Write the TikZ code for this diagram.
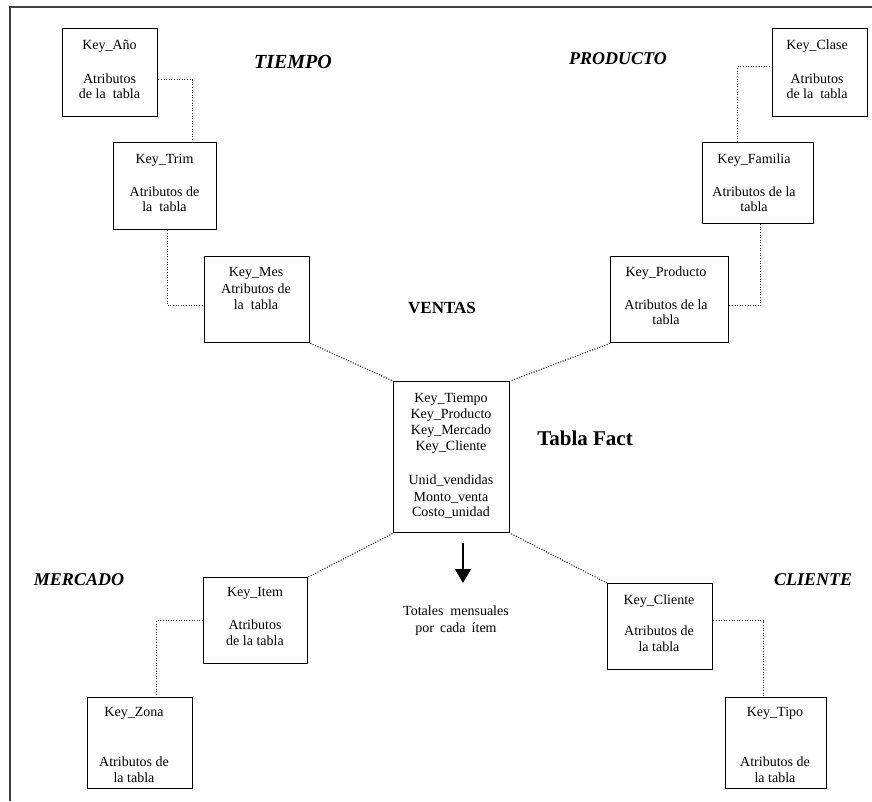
\documentclass[tikz,border=0pt]{standalone}
\usepackage{fontspec}
\setmainfont{Liberation Serif}
\usetikzlibrary{arrows.meta}
\begin{document}
\begin{tikzpicture}[x=1pt,y=-1pt,
  tbl/.style={draw=black, line width=1.3pt, inner sep=0pt, anchor=north west},
  txt/.style={anchor=north, inner sep=0pt, align=center, font=\fontsize{14}{16}\selectfont},
  link/.style={draw=black!85, line width=1.1pt, dash pattern=on 1.1pt off 1.5pt},
  frame/.style={draw=black!75, line width=1.6pt},
  dim/.style={inner sep=0pt, font=\fontsize{18}{20}\selectfont\bfseries\itshape},
  hdr/.style={inner sep=0pt, font=\fontsize{17}{20}\selectfont\bfseries},
  fact/.style={inner sep=0pt, font=\fontsize{21}{24}\selectfont\bfseries},
  flow/.style={draw=black, line width=1.5pt, -{Triangle[width=16pt,length=14pt]}}
]
\useasboundingbox (0,0) rectangle (872,801);

% page frame
\draw[frame] (10,801) -- (10,7) -- (872,7);

% dimension tables
\node[tbl, minimum width=95,  minimum height=88]  (anio)  at (62,28)   {};
\node[tbl, minimum width=103, minimum height=87]  (trim)  at (113,142) {};
\node[tbl, minimum width=105, minimum height=86]  (mes)   at (204,256) {};
\node[tbl, minimum width=116, minimum height=151] (fact)  at (393,381) {};
\node[tbl, minimum width=118, minimum height=86]  (prod)  at (610,256) {};
\node[tbl, minimum width=111, minimum height=81]  (fam)   at (702,142) {};
\node[tbl, minimum width=95,  minimum height=88]  (clase) at (772,28)  {};
\node[tbl, minimum width=104, minimum height=86]  (item)  at (203,577) {};
\node[tbl, minimum width=105, minimum height=91]  (zona)  at (87,697)  {};
\node[tbl, minimum width=105, minimum height=86]  (cli)   at (607,583) {};
\node[tbl, minimum width=101, minimum height=91]  (tipo)  at (725,697) {};

% table contents
\node[txt] (anio-t)  at (109.5,40)  {Key\_Año\\[18pt]Atributos\\[-1pt]de la\ \ tabla};
\node[txt] (trim-t)  at (164.5,154) {Key\_Trim\\[17pt]Atributos de\\[-1pt]la\ \ tabla};
\node[txt] (mes-t)   at (256,267)   {Key\_Mes\\[1pt]Atributos de\\la\ \ tabla};
\node[txt] (fact-t)  at (451,393)   {Key\_Tiempo\\Key\_Producto\\Key\_Mercado\\Key\_Cliente\\[18pt]Unid\_vendidas\\[1pt]Monto\_venta\\[-1pt]Costo\_unidad};
\node[txt] (prod-t)  at (666,267)   {Key\_Producto\\[17pt]Atributos de la\\[-1pt]tabla};
\node[txt] (fam-t)   at (754,154)   {Key\_Familia\\[17pt]Atributos de la\\[-1pt]tabla};
\node[txt] (clase-t) at (817,40)    {Key\_Clase\\[18pt]Atributos\\[-1pt]de la\ \ tabla};
\node[txt] (item-t)  at (255,587)   {Key\_Item\\[17pt]Atributos\\de la tabla};
\node[txt] (zona-t)  at (134,707)   {Key\_Zona\\[34pt]Atributos de\\la tabla};
\node[txt] (cli-t)   at (659,595)   {Key\_Cliente\\[15pt]Atributos de\\la tabla};
\node[txt] (tipo-t)  at (775,707)   {Key\_Tipo\\[34pt]Atributos de\\la tabla};

% dimension and cube labels
\node[dim, font=\fontsize{20}{22}\selectfont\bfseries\itshape] (l-tiempo) at (293,62) {TIEMPO};
\node[dim] (l-producto) at (618,59)  {PRODUCTO};
\node[dim] (l-mercado)  at (79,580)  {MERCADO};
\node[dim] (l-cliente)  at (813,580) {CLIENTE};
\node[hdr] (l-ventas)   at (442,308) {VENTAS};
\node[fact] (l-fact)    at (585,438) {Tabla Fact};

% star links to the fact table
\draw[link] (mes.south east)  -- (fact.north west);
\draw[link] (prod.south west) -- (fact.north east);
\draw[link] (item.north east) -- (fact.south west);
\draw[link] (cli.north west)  -- (fact.south east);

% hierarchy links inside each dimension
\draw[link] ([yshift=-7pt]anio.east) -| ([xshift=27.5pt]trim.north);
\draw[link] ([xshift=2.5pt]trim.south) |- ([yshift=-6pt]mes.west);
\draw[link] ([yshift=-6pt]prod.east) -| ([xshift=2.5pt]fam.south);
\draw[link] ([xshift=-20.5pt]fam.north) |- ([yshift=6pt]clase.west);
\draw[link] (item.west) -| ([xshift=16.5pt]zona.north);
\draw[link] ([yshift=6pt]cli.east) -| ([xshift=-12.5pt]tipo.north);

% monthly totals output
\coordinate (out-top) at (463,543);
\coordinate (out-tip) at (463,583);
\draw[flow] (out-top) -- (out-tip);
\node[txt] (totales) at (456,606) {Totales\hspace{7pt}mensuales\\[1pt]por\hspace{6pt}cada\hspace{6pt}ítem};
\end{tikzpicture}
\end{document}
